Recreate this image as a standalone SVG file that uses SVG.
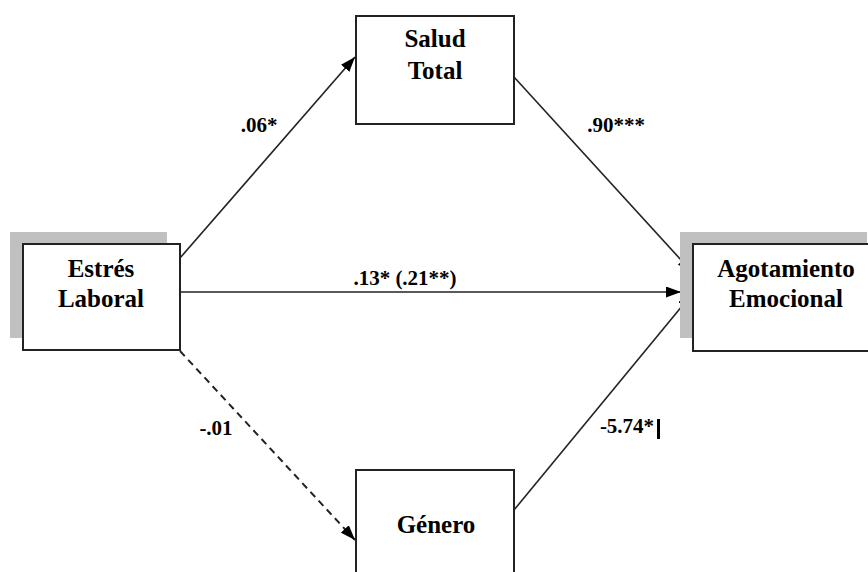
<svg xmlns="http://www.w3.org/2000/svg" width="868" height="572" viewBox="0 0 868 572">
  <style>
    .box { fill: #ffffff; stroke: #222222; stroke-width: 2; }
    .shadow { fill: #c0c0c0; }
    .node-text { font-weight: bold; font-size: 25px; fill: #000000; text-anchor: middle; }
    .label { font-weight: bold; font-size: 21px; fill: #000000; text-anchor: middle; }
    .edge { stroke: #222222; stroke-width: 1.6; fill: none; marker-end: url(#arrow); }
    .dashed { stroke-dasharray: 7 5; stroke-width: 2; }
  </style>
  <defs>
    <marker id="arrow" viewBox="0 0 15 11" refX="15" refY="5.5" markerWidth="15" markerHeight="11" markerUnits="userSpaceOnUse" orient="auto">
      <path d="M0,0 L15,5.5 L0,11 z" fill="#000000"/>
    </marker>
  </defs>
  <rect width="868" height="572" fill="#ffffff"/>

  <!-- connectors -->
  <g id="edges">
    <line class="edge" x1="180" y1="258" x2="355" y2="57"/>
    <line class="edge" x1="514" y1="77" x2="692" y2="272"/>
    <line class="edge" x1="180" y1="292" x2="681" y2="292"/>
    <line class="edge dashed" x1="180" y1="351" x2="355" y2="540"/>
    <line class="edge" x1="514" y1="510" x2="692" y2="294"/>
  </g>

  <!-- path coefficients -->
  <g id="labels" font-family="Liberation Serif, Times New Roman, serif">
    <text class="label" x="259" y="132">.06*</text>
    <text class="label" x="616" y="132">.90***</text>
    <text class="label" x="405" y="285">.13* (.21**)</text>
    <text class="label" x="216" y="435">-.01</text>
    <text class="label" x="627" y="433">-5.74*</text>
    <rect x="657" y="419" width="3" height="20" fill="#000000"/>
  </g>

  <g id="node-estres" font-family="Liberation Serif, Times New Roman, serif">
    <rect class="shadow" x="10" y="232" width="157" height="106"/>
    <rect class="box" x="23" y="244" width="157" height="106"/>
    <text class="node-text" x="101" y="277">Estrés</text>
    <text class="node-text" x="101" y="307">Laboral</text>
  </g>

  <g id="node-salud" font-family="Liberation Serif, Times New Roman, serif">
    <rect class="box" x="356" y="16" width="158" height="108"/>
    <text class="node-text" x="435" y="47">Salud</text>
    <text class="node-text" x="435" y="79">Total</text>
  </g>

  <g id="node-agotamiento" font-family="Liberation Serif, Times New Roman, serif">
    <rect class="shadow" x="680" y="232" width="187" height="106"/>
    <rect class="box" x="693" y="244" width="190" height="107"/>
    <text class="node-text" x="786" y="277">Agotamiento</text>
    <text class="node-text" x="786" y="307">Emocional</text>
  </g>

  <g id="node-genero" font-family="Liberation Serif, Times New Roman, serif">
    <rect class="box" x="356" y="470" width="158" height="130"/>
    <text class="node-text" x="436" y="533">Género</text>
  </g>
</svg>
